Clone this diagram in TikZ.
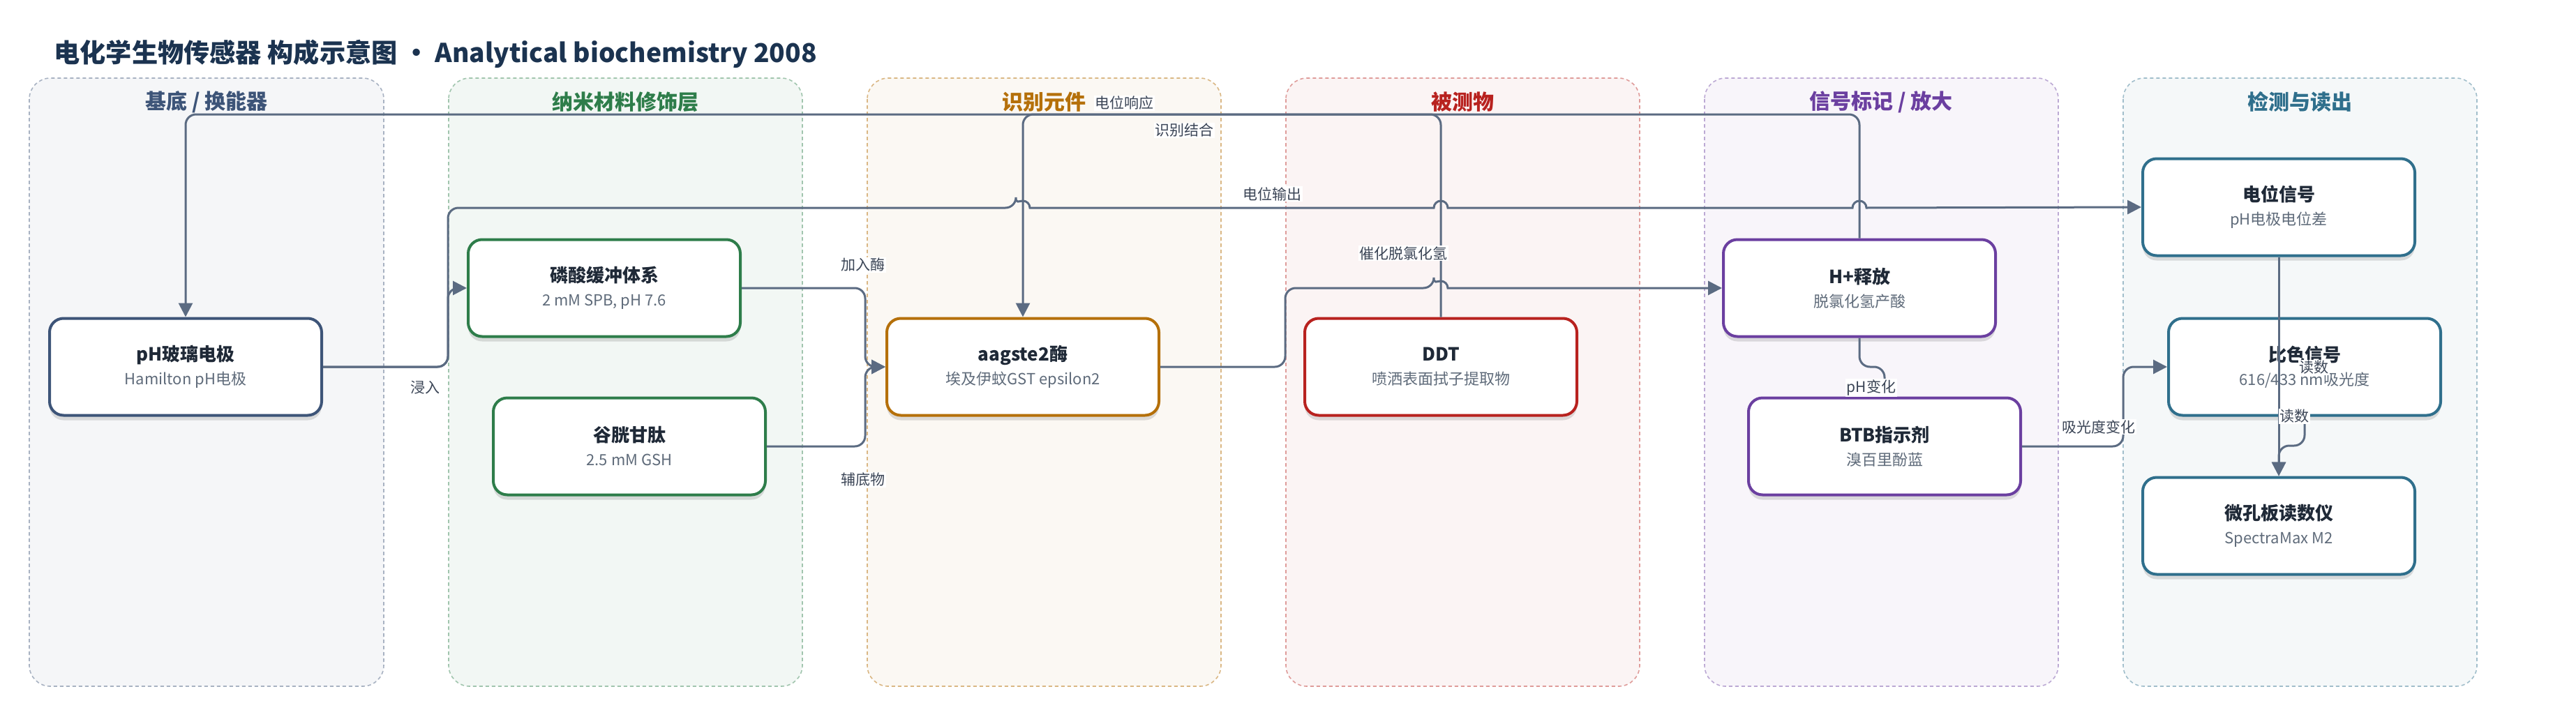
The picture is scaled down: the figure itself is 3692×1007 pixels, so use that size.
\documentclass[tikz,border=0pt]{standalone}
\usepackage{fontspec}
\setmainfont{Noto Sans CJK SC}
\usetikzlibrary{arrows.meta,shadows}

\definecolor{titleink}{HTML}{1B3350}
\definecolor{ink}{HTML}{1F2937}
\definecolor{subgray}{HTML}{5F6B7A}
\definecolor{wire}{HTML}{5B6B82}
\definecolor{tagink}{HTML}{3B4556}
\definecolor{navy}{HTML}{3D5478}
\definecolor{leaf}{HTML}{2E7D4A}
\definecolor{amber}{HTML}{B5700A}
\definecolor{brick}{HTML}{B8221F}
\definecolor{grape}{HTML}{6B3FA0}
\definecolor{teal}{HTML}{2F6F8C}

\tikzset{
  box/.style={draw, line width=4pt, rounded corners=20pt, fill=white,
    minimum width=390pt, minimum height=139pt, align=center, text=ink,
    font=\fontsize{22}{34}\selectfont,
    drop shadow={shadow xshift=0pt, shadow yshift=-7pt, opacity=.12, fill=black}},
  edge/.style={->, draw=wire, line width=3pt, rounded corners=15pt},
  tag/.style={fill=white, inner sep=1.5pt, text=tagink, font=\fontsize{21}{24}\selectfont},
  lane/.style={dashed, dash pattern=on 5pt off 4pt, line width=1.6pt, rounded corners=30pt},
  lanetitle/.style={font=\bfseries\fontsize{30}{34}\selectfont}
}
\newcommand{\boxtext}[2]{{\bfseries\fontsize{26}{34}\selectfont #1}\\\textcolor{subgray}{#2}}

\begin{document}
\begin{tikzpicture}[x=1pt, y=-1pt, >={Triangle[length=20pt,width=20pt]}]

    \useasboundingbox[fill=white] (0,0) rectangle (3692,1007);

    % Title
    \node[anchor=west, text=titleink, font=\bfseries\fontsize{37.2}{41}\selectfont] (title)
        at (74,77) {电化学生物传感器 构成示意图 · Analytical biochemistry 2008};

    % Lanes
    \draw[lane, draw=navy!45, fill=navy!5] (42,112) rectangle (550,984);
    \node[lanetitle, text=navy] (lane-a) at (296,146) {基底 / 换能器};

    \draw[lane, draw=leaf!45, fill=leaf!6] (643,112) rectangle (1150,984);
    \node[lanetitle, text=leaf] (lane-b) at (896,146) {纳米材料修饰层};

    \draw[lane, draw=amber!50, fill=amber!5] (1243,112) rectangle (1750,984);
    \node[lanetitle, text=amber] (lane-c) at (1496,146) {识别元件};

    \draw[lane, draw=brick!45, fill=brick!5] (1843,112) rectangle (2350,984);
    \node[lanetitle, text=brick] (lane-d) at (2096,146) {被测物};

    \draw[lane, draw=grape!45, fill=grape!5] (2443,112) rectangle (2950,984);
    \node[lanetitle, text=grape] (lane-e) at (2696,146) {信号标记 / 放大};

    \draw[lane, draw=teal!45, fill=teal!5] (3043,112) rectangle (3550,984);
    \node[lanetitle, text=teal] (lane-f) at (3296,146) {检测与读出};

    % Components
    \node[box, draw=navy] (electrode) at (266,526) {\boxtext{pH玻璃电极}{Hamilton pH电极}};
    \node[box, draw=leaf] (buffer) at (866,413) {\boxtext{磷酸缓冲体系}{2 mM SPB, pH 7.6}};
    \node[box, draw=leaf] (gsh) at (902,640) {\boxtext{谷胱甘肽}{2.5 mM GSH}};
    \node[box, draw=amber] (enzyme) at (1466,526) {\boxtext{aagste2酶}{埃及伊蚊GST epsilon2}};
    \node[box, draw=brick] (ddt) at (2065,526) {\boxtext{DDT}{喷洒表面拭子提取物}};
    \node[box, draw=grape] (proton) at (2665,413) {\boxtext{H+释放}{脱氯化氢产酸}};
    \node[box, draw=grape] (btb) at (2701,640) {\boxtext{BTB指示剂}{溴百里酚蓝}};
    \node[box, draw=teal] (potential) at (3266,297) {\boxtext{电位信号}{pH电极电位差}};
    \node[box, draw=teal] (color) at (3303,526) {\boxtext{比色信号}{616/433 nm吸光度}};
    \node[box, draw=teal] (reader) at (3266,754) {\boxtext{微孔板读数仪}{SpectraMax M2}};

    % Connectors
    \draw[edge] (proton.north) -- (2665,164) -- (266,164) -- (electrode.north);
    \draw[edge] (ddt.north) -- (2065,164) -- (1466,164) -- (enzyme.north);
    \draw[edge] (electrode.east) -- (642,526) -- (642,298) -- (1456,298)
        [sharp corners] arc (180:360:10) -- (2055,298) arc (180:360:10)
        -- (2655,298) arc (180:360:10) -- (potential.west);
    \draw[edge] (electrode.east) -- (642,526) -- (642,413) -- (buffer.west);
    \draw[edge] (buffer.east) -- (1240,413) -- (1240,526) -- (enzyme.west);
    \draw[edge] (gsh.east) -- (1240,640) -- (1240,526) -- (enzyme.west);
    \draw[edge] (enzyme.east) -- (1842,526) -- (1842,413) -- (2055,413)
        [sharp corners] arc (180:360:10) -- (proton.west);
    \draw[edge] (proton.south) -- (2665,526) -- (2701,526) -- (btb.north);
    \draw[edge] (btb.east) -- (3043,640) -- (3043,526) -- (color.west);
    \draw[edge] (potential.south) -- (reader.north);
    \draw[edge] (color.south) -- (3303,639) -- (3266,639) -- (reader.north);

    % Connector labels
    \node[tag] (t-response) at (1611,148) {电位响应};
    \node[tag] (t-binding) at (1697,187) {识别结合};
    \node[tag] (t-output) at (1823,278) {电位输出};
    \node[tag] (t-immerse) at (609,556) {浸入};
    \node[tag] (t-enzyme) at (1237,380) {加入酶};
    \node[tag] (t-cosub) at (1237,688) {辅底物};
    \node[tag] (t-dehydro) at (2011,363) {催化脱氯化氢};
    \node[tag] (t-ph) at (2682,556) {pH变化};
    \node[tag] (t-absorb) at (3008,612) {吸光度变化};
    \node[tag] (t-read1) at (3316,527) {读数};
    \node[tag] (t-read2) at (3288,597) {读数};

\end{tikzpicture}
\end{document}
